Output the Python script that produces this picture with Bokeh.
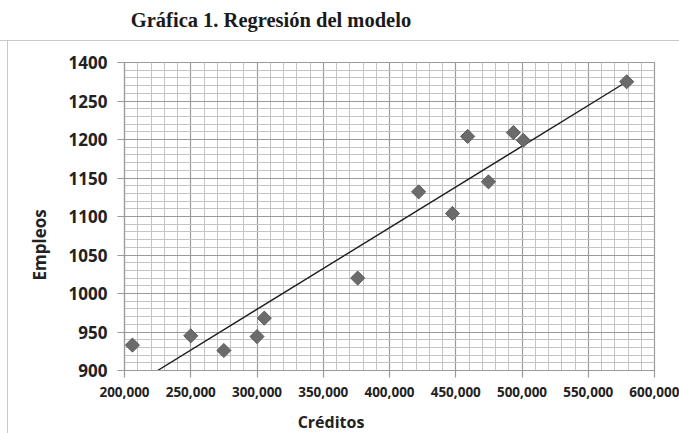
import numpy as np
from bokeh.plotting import figure
from bokeh.models import (ColumnDataSource, SingleIntervalTicker, NumeralTickFormatter,
                          Title, Div, Range1d)
from bokeh.layouts import column, row
from bokeh.embed import file_html
from bokeh.resources import INLINE

# ---- data ----
creditos = [206000, 250000, 275000, 300000, 305500, 376000, 422000,
            447500, 459000, 474700, 493500, 501000, 579000]
empleos = [933, 945, 926, 944, 968, 1020, 1132,
           1104, 1204, 1145, 1209, 1199, 1275]
trend_x = [225000, 579000]
trend_y = [900, 1275]
y_label_overrides = {1300: "1400"}

title_text = "Gráfica 1. Regresión del modelo"
x_title = "Créditos"
y_title = "Empleos"

FONT = "Open Sans"
GRAY_MAJOR = "#9a9a9a"
GRAY_MINOR = "#c4c4c4"

p = figure(width=671, height=371, output_backend="svg", toolbar_location=None,
           title=None, x_range=Range1d(200000, 600000), y_range=Range1d(900, 1300),
           min_border_left=116, min_border_right=25, min_border_top=21,
           min_border_bottom=42, background_fill_color="white",
           border_fill_color="white")
p.outline_line_color = GRAY_MAJOR
p.outline_line_width = 1.2

p.xaxis.ticker = SingleIntervalTicker(interval=50000, num_minor_ticks=5)
p.yaxis.ticker = SingleIntervalTicker(interval=50, num_minor_ticks=5)
p.xaxis.formatter = NumeralTickFormatter(format="0,0")
p.yaxis.major_label_overrides = y_label_overrides

for ax in (p.xaxis[0], p.yaxis[0]):
    ax.axis_line_color = GRAY_MAJOR
    ax.axis_line_width = 1.2
    ax.major_tick_line_color = GRAY_MAJOR
    ax.major_tick_line_width = 1.2
    ax.major_tick_in = 0
    ax.major_tick_out = 7
    ax.minor_tick_in = 0
    ax.minor_tick_out = 0
    ax.major_label_text_font = FONT
    ax.major_label_text_font_style = "bold"
    ax.major_label_text_color = "#222222"
p.xaxis.major_label_text_font_size = "13.5px"
p.yaxis.major_label_text_font_size = "17px"
p.xaxis.major_label_standoff = 9
p.yaxis.major_label_standoff = 10

for g in (p.xgrid[0], p.ygrid[0]):
    g.grid_line_color = GRAY_MAJOR
    g.grid_line_width = 1.2
    g.minor_grid_line_color = GRAY_MINOR
    g.minor_grid_line_width = 1.0

src = ColumnDataSource(dict(x=creditos, y=empleos))
p.line(x=trend_x, y=trend_y, line_color="#1e1e1e", line_width=1.4)
p.scatter(x="x", y="y", source=src, marker="square", size=10, angle=np.pi / 4,
          fill_color="#6b6b6b", line_color="#5e5e5e", line_width=1)

p.add_layout(Title(text=y_title, align="left", offset=90, standoff=30,
                   text_font=FONT, text_font_style="bold", text_font_size="17px",
                   text_color="#222222"), "left")

title_div = Div(text=title_text, width=542, height=40, margin=(0, 0, 0, 0),
                styles={"font-family": "Liberation Serif", "font-weight": "bold",
                        "font-size": "20.5px", "text-align": "center",
                        "line-height": "40px", "color": "#1a1a1a"})
hline = Div(text="", width=679, height=1, margin=(0, 0, 0, 0),
            styles={"background-color": "#c8c8c8"})
spacer = Div(text="", width=7, height=392, margin=(0, 0, 0, 0))
vline = Div(text="", width=1, height=392, margin=(0, 0, 0, 0),
            styles={"background-color": "#c8c8c8"})
xlab = Div(text=x_title, width=646, height=21, margin=(0, 0, 0, 0),
           styles={"font-family": FONT, "font-weight": "bold", "font-size": "16px",
                   "text-align": "center", "line-height": "21px", "color": "#222222"})

layout = column(title_div, hline,
                row(spacer, vline, column(p, xlab, spacing=0), spacing=0),
                spacing=0)

open("out.html", "w").write(file_html(layout, INLINE))
